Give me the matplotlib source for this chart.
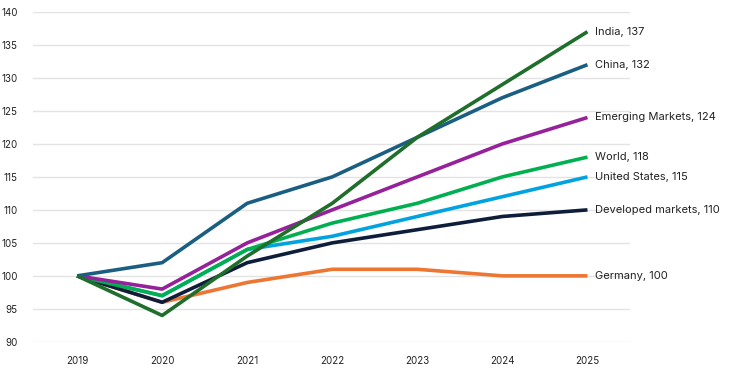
import matplotlib
matplotlib.use("Agg")
import matplotlib.pyplot as plt

plt.rcParams["font.family"] = ["Inter", "DejaVu Sans"]

# ── DATA ───────────────────────────────────────────────
years = [2019, 2020, 2021, 2022, 2023, 2024, 2025]

germany = [100, 96, 99, 101, 101, 100, 100]
united_states = [100, 97, 104, 106, 109, 112, 115]
developed = [100, 96, 102, 105, 107, 109, 110]
world = [100, 97, 104, 108, 111, 115, 118]
emerging = [100, 98, 105, 110, 115, 120, 124]
china = [100, 102, 111, 115, 121, 127, 132]
india = [100, 94, 103, 111, 121, 129, 137]

series = [
    ("Germany", germany, "#ee7633"),
    ("United States", united_states, "#00a3e0"),
    ("Developed markets", developed, "#0e1e3a"),
    ("World", world, "#00b050"),
    ("Emerging Markets", emerging, "#95219b"),
    ("China", china, "#1a5f82"),
    ("India", india, "#1f6e2b"),
]

# ── PLOT ───────────────────────────────────────────────
fig = plt.figure(figsize=(7.3, 3.72), dpi=100)
ax = fig.add_axes([0.045, 0.081, 0.818, 0.887])

for name, vals, col in series:
    ax.plot(years, vals, color=col, linewidth=2.6, solid_capstyle="butt", zorder=3)
    ax.text(years[-1] + 0.09, vals[-1], f"{name}, {vals[-1]}",
            fontsize=8, color="#222222", va="center", ha="left")

ax.set_xlim(2018.48, 2025.5)
ax.set_ylim(90, 140)
ax.set_yticks(range(90, 141, 5))
ax.set_xticks(years)
ax.grid(axis="y", color="#e3e3e3", linewidth=1)
ax.set_axisbelow(True)
for s in ax.spines.values():
    s.set_visible(False)
ax.tick_params(length=0, labelsize=7, colors="#222222")
ax.tick_params(axis="y", pad=11)
ax.tick_params(axis="x", pad=10)

fig.savefig("out.png", dpi=100)
